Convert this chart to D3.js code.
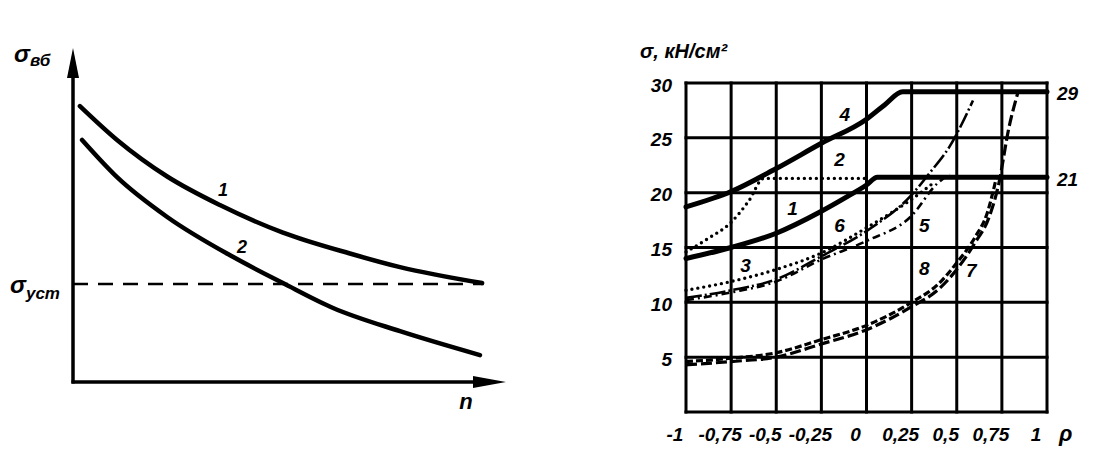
<!DOCTYPE html>
<html><head><meta charset="utf-8">
<script src="https://cdn.jsdelivr.net/npm/d3@7"></script>
<style>body{margin:0;background:#fff}svg{display:block}text{font-family:"Liberation Sans",Arial,sans-serif;font-style:italic;font-weight:bold;fill:#000}</style>
</head><body>
<script>
// ---------- Left chart data (relative units) ----------
const leftCurve1 = [[1.6,83.1],[10.2,72.9],[21.8,61.9],[34.0,53.3],[48.6,45.0],[64.1,38.7],[75.7,34.6],[94.7,29.8]];
const leftCurve2 = [[2.1,72.9],[10.2,61.7],[21.8,49.7],[37.0,37.7],[48.6,29.8],[60.2,22.3],[75.7,15.3],[94.2,8.1]];
const sigmaUst = 29.5;
const leftLabels = [["1",34.7,57.8],["2",39.1,40.7]];

// ---------- Right chart data ----------
const xTicks = [-1,-0.75,-0.5,-0.25,0,0.25,0.5,0.75,1];
const xTickLabels = ["-1","-0,75","-0,5","-0,25","0","0,25","0,5","0,75","1"];
const yTicks = [0,5,10,15,20,25,30];
const yTickLabels = ["","5","10","15","20","25","30"];
const curve1 = [[-1,14.0],[-0.75,15.0],[-0.5,16.3],[-0.25,18.3],[-0.1,19.7],[0,20.7],[0.06,21.4],[1,21.4]];
const curve2 = [[-1,14.6],[-0.88,15.8],[-0.75,17.3],[-0.65,19.3],[-0.57,21.3],[0.02,21.3]];
const curve3 = [[-1,11.1],[-0.75,11.9],[-0.5,13.0],[-0.25,14.5],[0,16.8],[0.25,19.4],[0.38,21.0]];
const curve4 = [[-1,18.7],[-0.75,20.1],[-0.5,22.2],[-0.25,24.5],[0,26.7],[0.1,28.0],[0.2,29.2],[1,29.2]];
const curve5 = [[-1,10.2],[-0.75,10.9],[-0.5,11.9],[-0.25,13.9],[0,15.6],[0.25,17.9],[0.39,20.8],[0.46,21.7]];
const curve6 = [[-1,10.4],[-0.75,11.1],[-0.5,12.1],[-0.25,14.2],[0,16.5],[0.25,19.8],[0.35,21.8],[0.46,24.2],[0.59,28.4]];
const curve7 = [[-1,4.3],[-0.75,4.6],[-0.5,5.0],[-0.25,6.2],[0,7.5],[0.25,9.6],[0.4,11.2],[0.5,13.0],[0.6,15.4],[0.68,17.8],[0.73,20.6],[0.79,26.0],[0.84,29.2]];
const curve8 = [[-1,4.6],[-0.75,4.9],[-0.5,5.4],[-0.25,6.6],[0,7.9],[0.25,10.0],[0.4,11.7],[0.5,13.6],[0.6,15.9],[0.67,18.2],[0.72,21.4]];
const curveLabels = [["4",-0.12,27.1],["2",-0.15,23.0],["1",-0.41,18.6],["6",-0.15,17.0],["3",-0.67,13.4],["5",0.32,17.0],["8",0.32,13.1],["7",0.58,12.9]];
const rightValueLabels = [["29",29.2],["21",21.4]];

const svg = d3.select("body").append("svg").attr("width",1115).attr("height",472);
svg.append("rect").attr("width",1115).attr("height",472).attr("fill","#fff");

// ---------- Left chart ----------
const xL = d3.scaleLinear([0,100],[73,505]);
const yL = d3.scaleLinear([0,100],[382,50]);
const gL = svg.append("g");
const lineL = d3.line().x(d=>xL(d[0])).y(d=>yL(d[1])).curve(d3.curveMonotoneX);
gL.append("line").attr("x1",xL(0)).attr("y1",yL(sigmaUst)).attr("x2",xL(95)).attr("y2",yL(sigmaUst))
  .attr("stroke","#000").attr("stroke-width",2.5).attr("stroke-dasharray","15,10");
[leftCurve1,leftCurve2].forEach(c=>gL.append("path").attr("d",lineL(c)).attr("fill","none").attr("stroke","#000").attr("stroke-width",4.5).attr("stroke-linecap","round"));
// axes
gL.append("line").attr("x1",xL(0)).attr("y1",yL(0)+1.5).attr("x2",xL(0)).attr("y2",yL(100)+22).attr("stroke","#000").attr("stroke-width",3.5);
gL.append("line").attr("x1",xL(0)-1.5).attr("y1",yL(0)).attr("x2",xL(100)-25).attr("y2",yL(0)).attr("stroke","#000").attr("stroke-width",3.5);
gL.append("path").attr("d",`M${xL(0)},${yL(100)-2} L${xL(0)-6},${yL(100)+28} L${xL(0)+6},${yL(100)+28}Z`).attr("fill","#000");
gL.append("path").attr("d",`M${xL(100)+1},${yL(0)} L${xL(100)-32},${yL(0)-6} L${xL(100)-32},${yL(0)+6}Z`).attr("fill","#000");
gL.append("text").attr("x",14).attr("y",62).attr("font-size",24).text("σ").append("tspan").attr("font-size",17).attr("dy",4).text("вб");
gL.append("text").attr("x",10).attr("y",293).attr("font-size",24).text("σ").append("tspan").attr("font-size",17).attr("dy",6).text("уст");
gL.append("text").attr("x",466).attr("y",409).attr("font-size",22).attr("text-anchor","middle").text("n");
leftLabels.forEach(l=>gL.append("text").attr("x",xL(l[1])).attr("y",yL(l[2])).attr("font-size",18).attr("text-anchor","middle").attr("dominant-baseline","central").text(l[0]));

// ---------- Right chart ----------
const x = d3.scaleLinear([-1,1],[686,1047]);
const y = d3.scaleLinear([0,30],[412,83]);
const g = svg.append("g");
xTicks.forEach(t=>g.append("line").attr("x1",x(t)).attr("x2",x(t)).attr("y1",y(0)+1.5).attr("y2",y(30)-1.5).attr("stroke","#000").attr("stroke-width",3));
yTicks.forEach(t=>g.append("line").attr("y1",y(t)).attr("y2",y(t)).attr("x1",x(-1)-1.5).attr("x2",x(1)+1.5).attr("stroke","#000").attr("stroke-width",3));

const line = d3.line().x(d=>x(d[0])).y(d=>y(d[1])).curve(d3.curveMonotoneX);
function draw(data,w,dash,cap){
  const p = g.append("path").attr("d",line(data)).attr("fill","none").attr("stroke","#000").attr("stroke-width",w).attr("stroke-linecap",cap||"butt").attr("stroke-linejoin","round");
  if(dash) p.attr("stroke-dasharray",dash);
}
draw(curve4,5,null,"round");
draw(curve1,5,null,"round");
draw(curve2,3.4,"0,6","round");
draw(curve6,2.6,"16,3,2,3");
draw(curve5,2.6,"8,4,2,4");
draw(curve3,3.4,"0,6","round");
draw(curve8,3.2,"7,3");
draw(curve7,3.2,"11,4");

curveLabels.forEach(l=>g.append("text").attr("x",x(l[1])).attr("y",y(l[2])).attr("font-size",19).attr("text-anchor","middle").attr("dominant-baseline","central").text(l[0]));
rightValueLabels.forEach(l=>g.append("text").attr("x",1057).attr("y",y(l[1])+2).attr("font-size",19).attr("dominant-baseline","central").text(l[0]));
yTicks.forEach((t,i)=>g.append("text").attr("x",672).attr("y",y(t)+2).attr("font-size",19).attr("text-anchor","end").attr("dominant-baseline","central").text(yTickLabels[i]));
xTicks.forEach((t,i)=>g.append("text").attr("x",x(t)-11).attr("y",441).attr("font-size",19).attr("text-anchor","middle").text(xTickLabels[i]));
g.append("text").attr("x",1059).attr("y",441).attr("font-size",22).text("ρ");
g.append("text").attr("x",640).attr("y",58).attr("font-size",20).text("σ, кН/см²");
</script>
</body></html>
